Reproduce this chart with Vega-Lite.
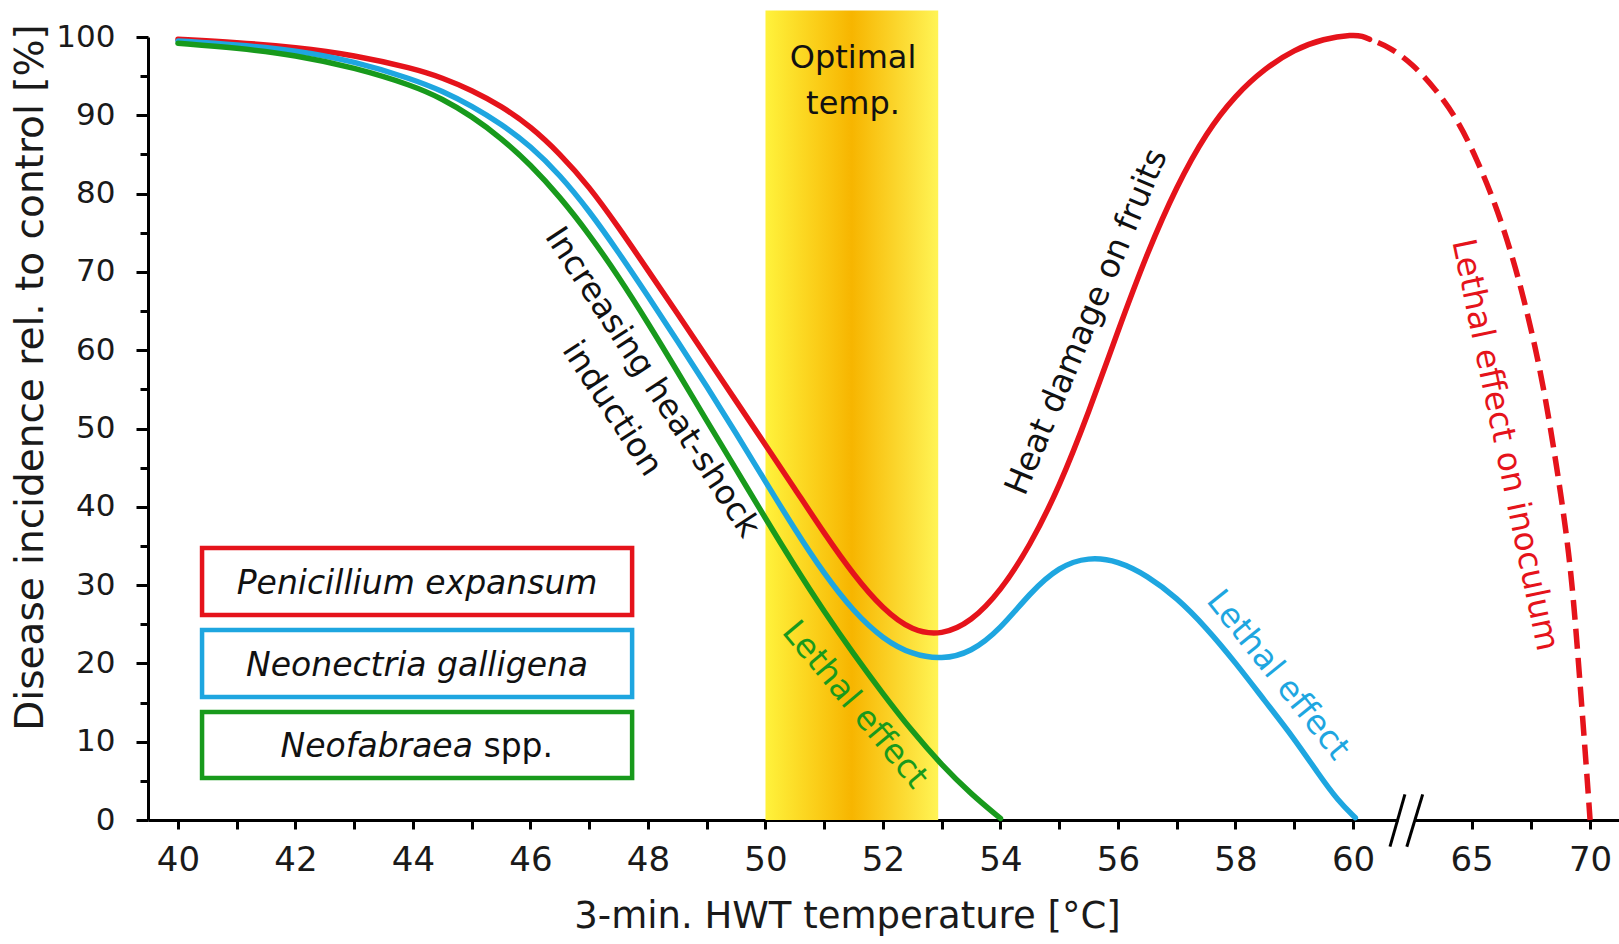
{
  "$schema": "https://vega.github.io/schema/vega-lite/v6.json",
  "width": 1471,
  "height": 783,
  "autosize": "none",
  "padding": {"left": 148, "top": 37, "right": 0, "bottom": 124},
  "background": "white",
  "config": {
    "view": {"stroke": null},
    "font": "DejaVu Sans",
    "axis": {
      "grid": false,
      "domainColor": "black",
      "tickColor": "black",
      "domainWidth": 3,
      "tickWidth": 3,
      "labelColor": "#1a1a1a",
      "titleColor": "#1a1a1a",
      "labelFont": "DejaVu Sans",
      "titleFont": "DejaVu Sans",
      "titleFontWeight": "normal",
      "labelFlush": false,
      "labelOverlap": false
    }
  },
  "datasets": {
    "band": [{"x": 50, "x2": 52.94, "y": 0, "y2": 103.4}],
    "curves": [
      {"species": "Penicillium expansum", "x": 40, "y": 99.7},
      {"species": "Penicillium expansum", "x": 41, "y": 99.3},
      {"species": "Penicillium expansum", "x": 42, "y": 98.7},
      {"species": "Penicillium expansum", "x": 43, "y": 97.7},
      {"species": "Penicillium expansum", "x": 44, "y": 96.0},
      {"species": "Penicillium expansum", "x": 44.5, "y": 94.8},
      {"species": "Penicillium expansum", "x": 45, "y": 93.2},
      {"species": "Penicillium expansum", "x": 45.5, "y": 91.2},
      {"species": "Penicillium expansum", "x": 46, "y": 88.6},
      {"species": "Penicillium expansum", "x": 46.5, "y": 85.1},
      {"species": "Penicillium expansum", "x": 47, "y": 80.9},
      {"species": "Penicillium expansum", "x": 47.5, "y": 75.7},
      {"species": "Penicillium expansum", "x": 48, "y": 70.2},
      {"species": "Penicillium expansum", "x": 48.5, "y": 64.7},
      {"species": "Penicillium expansum", "x": 49, "y": 59.1},
      {"species": "Penicillium expansum", "x": 49.5, "y": 53.5},
      {"species": "Penicillium expansum", "x": 50, "y": 47.9},
      {"species": "Penicillium expansum", "x": 50.5, "y": 42.3},
      {"species": "Penicillium expansum", "x": 51, "y": 36.6},
      {"species": "Penicillium expansum", "x": 51.5, "y": 31.3},
      {"species": "Penicillium expansum", "x": 52, "y": 26.9},
      {"species": "Penicillium expansum", "x": 52.5, "y": 24.1},
      {"species": "Penicillium expansum", "x": 53, "y": 23.6},
      {"species": "Penicillium expansum", "x": 53.5, "y": 25.3},
      {"species": "Penicillium expansum", "x": 54, "y": 29.2},
      {"species": "Penicillium expansum", "x": 54.5, "y": 35.0},
      {"species": "Penicillium expansum", "x": 55, "y": 42.5},
      {"species": "Penicillium expansum", "x": 55.5, "y": 52.0},
      {"species": "Penicillium expansum", "x": 56, "y": 62.5},
      {"species": "Penicillium expansum", "x": 56.5, "y": 72.5},
      {"species": "Penicillium expansum", "x": 57, "y": 81.0},
      {"species": "Penicillium expansum", "x": 57.5, "y": 87.8},
      {"species": "Penicillium expansum", "x": 58, "y": 92.6},
      {"species": "Penicillium expansum", "x": 58.5, "y": 96.0},
      {"species": "Penicillium expansum", "x": 59, "y": 98.4},
      {"species": "Penicillium expansum", "x": 59.5, "y": 99.8},
      {"species": "Penicillium expansum", "x": 60, "y": 100.3},
      {"species": "Penicillium expansum", "x": 60.4, "y": 100.1},
      {"species": "Penicillium expansum", "x": 60.7, "y": 99.7},
      {"species": "Neonectria galligena", "x": 40, "y": 99.5},
      {"species": "Neonectria galligena", "x": 41, "y": 99.0},
      {"species": "Neonectria galligena", "x": 42, "y": 98.3},
      {"species": "Neonectria galligena", "x": 43, "y": 96.9},
      {"species": "Neonectria galligena", "x": 44, "y": 94.6},
      {"species": "Neonectria galligena", "x": 44.5, "y": 93.1},
      {"species": "Neonectria galligena", "x": 45, "y": 91.2},
      {"species": "Neonectria galligena", "x": 45.5, "y": 88.9},
      {"species": "Neonectria galligena", "x": 46, "y": 86.1},
      {"species": "Neonectria galligena", "x": 46.5, "y": 82.4},
      {"species": "Neonectria galligena", "x": 47, "y": 77.8},
      {"species": "Neonectria galligena", "x": 47.5, "y": 72.5},
      {"species": "Neonectria galligena", "x": 48, "y": 66.9},
      {"species": "Neonectria galligena", "x": 48.5, "y": 61.2},
      {"species": "Neonectria galligena", "x": 49, "y": 55.4},
      {"species": "Neonectria galligena", "x": 49.5, "y": 49.4},
      {"species": "Neonectria galligena", "x": 50, "y": 43.2},
      {"species": "Neonectria galligena", "x": 50.5, "y": 37.1},
      {"species": "Neonectria galligena", "x": 51, "y": 31.4},
      {"species": "Neonectria galligena", "x": 51.5, "y": 26.6},
      {"species": "Neonectria galligena", "x": 52, "y": 23.1},
      {"species": "Neonectria galligena", "x": 52.5, "y": 21.1},
      {"species": "Neonectria galligena", "x": 53, "y": 20.5},
      {"species": "Neonectria galligena", "x": 53.5, "y": 21.4},
      {"species": "Neonectria galligena", "x": 54, "y": 24.4},
      {"species": "Neonectria galligena", "x": 54.5, "y": 29.0},
      {"species": "Neonectria galligena", "x": 55, "y": 32.4},
      {"species": "Neonectria galligena", "x": 55.5, "y": 33.6},
      {"species": "Neonectria galligena", "x": 56, "y": 33.1},
      {"species": "Neonectria galligena", "x": 56.5, "y": 31.2},
      {"species": "Neonectria galligena", "x": 57, "y": 28.4},
      {"species": "Neonectria galligena", "x": 57.5, "y": 24.6},
      {"species": "Neonectria galligena", "x": 58, "y": 20.1},
      {"species": "Neonectria galligena", "x": 58.5, "y": 15.2},
      {"species": "Neonectria galligena", "x": 59, "y": 10.4},
      {"species": "Neonectria galligena", "x": 59.4, "y": 6.0},
      {"species": "Neonectria galligena", "x": 59.75, "y": 2.4},
      {"species": "Neonectria galligena", "x": 60.1, "y": 0.3},
      {"species": "Neofabraea spp.", "x": 40, "y": 99.2},
      {"species": "Neofabraea spp.", "x": 41, "y": 98.6},
      {"species": "Neofabraea spp.", "x": 42, "y": 97.7},
      {"species": "Neofabraea spp.", "x": 43, "y": 96.1},
      {"species": "Neofabraea spp.", "x": 44, "y": 93.8},
      {"species": "Neofabraea spp.", "x": 44.5, "y": 92.1},
      {"species": "Neofabraea spp.", "x": 45, "y": 89.9},
      {"species": "Neofabraea spp.", "x": 45.5, "y": 87.1},
      {"species": "Neofabraea spp.", "x": 46, "y": 83.7},
      {"species": "Neofabraea spp.", "x": 46.5, "y": 79.6},
      {"species": "Neofabraea spp.", "x": 47, "y": 74.8},
      {"species": "Neofabraea spp.", "x": 47.5, "y": 69.4},
      {"species": "Neofabraea spp.", "x": 48, "y": 63.5},
      {"species": "Neofabraea spp.", "x": 48.5, "y": 57.3},
      {"species": "Neofabraea spp.", "x": 49, "y": 51.0},
      {"species": "Neofabraea spp.", "x": 49.5, "y": 44.8},
      {"species": "Neofabraea spp.", "x": 50, "y": 38.5},
      {"species": "Neofabraea spp.", "x": 50.5, "y": 32.4},
      {"species": "Neofabraea spp.", "x": 51, "y": 26.6},
      {"species": "Neofabraea spp.", "x": 51.5, "y": 21.2},
      {"species": "Neofabraea spp.", "x": 52, "y": 16.1},
      {"species": "Neofabraea spp.", "x": 52.5, "y": 11.3},
      {"species": "Neofabraea spp.", "x": 53, "y": 7.0},
      {"species": "Neofabraea spp.", "x": 53.5, "y": 3.3},
      {"species": "Neofabraea spp.", "x": 54, "y": 0.2}
    ],
    "redDashed": [
      {"species": "Penicillium expansum", "x": 60.7, "y": 99.7},
      {"species": "Penicillium expansum", "x": 61.5, "y": 98.8},
      {"species": "Penicillium expansum", "x": 62.5, "y": 96.6},
      {"species": "Penicillium expansum", "x": 63.5, "y": 93.3},
      {"species": "Penicillium expansum", "x": 64.4, "y": 89.5},
      {"species": "Penicillium expansum", "x": 65.2, "y": 84.6},
      {"species": "Penicillium expansum", "x": 66.1, "y": 78.0},
      {"species": "Penicillium expansum", "x": 67.0, "y": 69.3},
      {"species": "Penicillium expansum", "x": 67.9, "y": 57.8},
      {"species": "Penicillium expansum", "x": 68.5, "y": 47.0},
      {"species": "Penicillium expansum", "x": 69.0, "y": 36.8},
      {"species": "Penicillium expansum", "x": 69.3, "y": 28.5},
      {"species": "Penicillium expansum", "x": 69.6, "y": 16.5},
      {"species": "Penicillium expansum", "x": 69.85, "y": 6.5},
      {"species": "Penicillium expansum", "x": 70.0, "y": 0}
    ],
    "legendBoxes": [
      {"species": "Penicillium expansum", "x": 40.41, "x2": 47.73, "y": 26.18, "y2": 34.74},
      {"species": "Neonectria galligena", "x": 40.41, "x2": 47.73, "y": 15.71, "y2": 24.27},
      {"species": "Neofabraea spp.", "x": 40.41, "x2": 47.73, "y": 5.36, "y2": 13.79}
    ],
    "breakGap": [{"x": 61.92, "x2": 62.58, "y": -0.4, "y2": 0.4}],
    "breakSlashes": [
      {"x": 61.56, "y": -3.41, "x2": 62.19, "y2": 3.28},
      {"x": 62.27, "y": -3.41, "x2": 62.94, "y2": 3.28}
    ]
  },
  "encoding": {
    "x": {
      "field": "x",
      "type": "quantitative",
      "scale": {"domain": [39.49, 60, 71.22], "range": [0, 1205, 1471], "nice": false, "zero": false},
      "axis": {
        "title": "3-min. HWT temperature [°C]",
        "values": [40, 41, 42, 43, 44, 45, 46, 47, 48, 49, 50, 51, 52, 53, 54, 55, 56, 57, 58, 59, 60, 65, 67.5, 70],
        "labelExpr": "((datum.value <= 60 && datum.value % 2 === 0) || datum.value === 65 || datum.value === 70) ? datum.label : ''",
        "tickSize": 9,
        "labelPadding": 14,
        "labelFontSize": 34,
        "titleFontSize": 37,
        "titleX": 699,
        "titleY": 107,
        "titleBaseline": "alphabetic",
        "titleAnchor": "start",
        "titleAlign": "center"
      }
    },
    "y": {
      "field": "y",
      "type": "quantitative",
      "scale": {"domain": [0, 100], "nice": false, "zero": false},
      "axis": {
        "title": "Disease incidence rel. to control [%]",
        "values": [0, 5, 10, 15, 20, 25, 30, 35, 40, 45, 50, 55, 60, 65, 70, 75, 80, 85, 90, 95, 100],
        "labelExpr": "datum.value % 10 === 0 ? datum.label : ''",
        "tickSize": {"condition": {"test": "datum.value % 10 === 0", "value": 12}, "value": 8},
        "labelPadding": 21,
        "labelFontSize": 31,
        "titleFontSize": 39,
        "titlePadding": 5,
        "titleY": 340
      }
    }
  },
  "layer": [
    {
      "data": {"name": "band"},
      "mark": {
        "type": "rect",
        "fill": {
          "gradient": "linear",
          "x1": 0, "y1": 0, "x2": 1, "y2": 0,
          "stops": [
            {"offset": 0, "color": "#fff23c"},
            {"offset": 0.5, "color": "#f7b500"},
            {"offset": 1, "color": "#fff455"}
          ]
        }
      },
      "encoding": {"x2": {"field": "x2"}, "y2": {"field": "y2"}}
    },
    {
      "data": {"name": "breakGap"},
      "mark": {"type": "rect", "fill": "white"},
      "encoding": {"x2": {"field": "x2"}, "y2": {"field": "y2"}}
    },
    {
      "data": {"name": "breakSlashes"},
      "mark": {"type": "rule", "stroke": "black", "strokeWidth": 3},
      "encoding": {"x2": {"field": "x2"}, "y2": {"field": "y2"}}
    },
    {
      "data": {"name": "legendBoxes"},
      "mark": {"type": "rect", "fill": "white", "strokeWidth": 4.5},
      "encoding": {
        "x2": {"field": "x2"},
        "y2": {"field": "y2"},
        "stroke": {
          "field": "species",
          "type": "nominal",
          "scale": {"domain": ["Penicillium expansum", "Neonectria galligena", "Neofabraea spp."], "range": ["#e5131b", "#1ea6e0", "#189a1c"]},
          "legend": null
        }
      }
    },
    {
      "data": {"name": "curves"},
      "mark": {"type": "line", "strokeWidth": 5.5, "interpolate": "basis", "strokeCap": "round"},
      "encoding": {
        "color": {
          "field": "species",
          "type": "nominal",
          "scale": {"domain": ["Penicillium expansum", "Neonectria galligena", "Neofabraea spp."], "range": ["#e5131b", "#1ea6e0", "#189a1c"]},
          "legend": null
        }
      }
    },
    {
      "data": {"name": "redDashed"},
      "mark": {"type": "line", "strokeWidth": 5.5, "interpolate": "basis", "strokeDash": [20, 9], "strokeDashOffset": -9, "color": "#e5131b"},
      "encoding": {}
    },
    {
      "data": {"values": [{"x": 51.49, "y": 96.0, "t": "Optimal\ntemp."}]},
      "mark": {"type": "text", "lineBreak": "\n", "lineHeight": 46, "fontSize": 32, "align": "center", "baseline": "alphabetic", "color": "#111111"},
      "encoding": {"text": {"field": "t"}}
    },
    {
      "data": {"values": [{"x": 48.07, "y": 55.9, "t": "Increasing heat-shock\ninduction"}]},
      "mark": {"type": "text", "lineBreak": "\n", "lineHeight": 48, "fontSize": 33, "align": "center", "baseline": "middle", "angle": 56.7, "color": "#111111"},
      "encoding": {"text": {"field": "t"}}
    },
    {
      "data": {"values": [{"x": 55.47, "y": 63.6, "t": "Heat damage on fruits"}]},
      "mark": {"type": "text", "fontSize": 33, "align": "center", "baseline": "middle", "angle": -67.4, "color": "#111111"},
      "encoding": {"text": {"field": "t"}}
    },
    {
      "data": {"values": [{"x": 66.4, "y": 47.9, "t": "Lethal effect on inoculum"}]},
      "mark": {"type": "text", "fontSize": 33, "align": "center", "baseline": "middle", "angle": 78.25, "color": "#e5131b"},
      "encoding": {"text": {"field": "t"}}
    },
    {
      "data": {"values": [{"x": 51.52, "y": 14.7, "t": "Lethal effect"}]},
      "mark": {"type": "text", "fontSize": 33, "align": "center", "baseline": "middle", "angle": 50.1, "color": "#189a1c"},
      "encoding": {"text": {"field": "t"}}
    },
    {
      "data": {"values": [{"x": 58.72, "y": 18.5, "t": "Lethal effect"}]},
      "mark": {"type": "text", "fontSize": 33, "align": "center", "baseline": "middle", "angle": 51.2, "color": "#1ea6e0"},
      "encoding": {"text": {"field": "t"}}
    },
    {
      "data": {"values": [{"x": 44.07, "y": 30.2, "t": "Penicillium expansum"}, {"x": 44.07, "y": 19.7, "t": "Neonectria galligena"}]},
      "mark": {"type": "text", "fontSize": 33, "fontStyle": "italic", "align": "center", "baseline": "middle", "color": "#111111"},
      "encoding": {"text": {"field": "t"}}
    },
    {
      "data": {"values": [{"x": 45.02, "y": 9.3, "t": "Neofabraea"}]},
      "mark": {"type": "text", "fontSize": 33, "fontStyle": "italic", "align": "right", "baseline": "middle", "color": "#111111"},
      "encoding": {"text": {"field": "t"}}
    },
    {
      "data": {"values": [{"x": 45.2, "y": 9.3, "t": "spp."}]},
      "mark": {"type": "text", "fontSize": 33, "align": "left", "baseline": "middle", "color": "#111111"},
      "encoding": {"text": {"field": "t"}}
    }
  ]
}
